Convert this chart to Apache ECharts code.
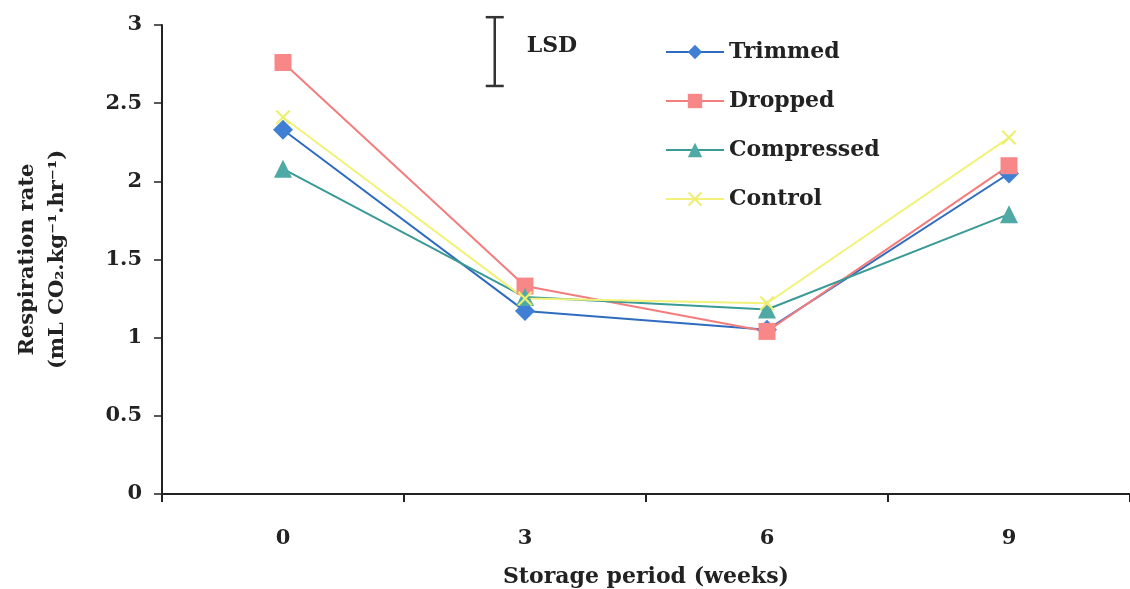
<!DOCTYPE html>
<html>
<head>
<meta charset="utf-8">
<script src="https://cdn.jsdelivr.net/npm/echarts@6/dist/echarts.min.js"></script>
<style>
  html, body { margin: 0; padding: 0; background: #fff; }
  #chart { width: 1130px; height: 589px; }
</style>
</head>
<body>
<div id="chart"></div>
<script>
// Storage period (weeks)
const weeks = ['0', '3', '6', '9'];

// Respiration rate, mL CO2 per kg per hour
const trimmed    = [2.33, 1.17, 1.05, 2.05];
const dropped    = [2.76, 1.33, 1.04, 2.10];
const compressed = [2.08, 1.26, 1.18, 1.79];
const control    = [2.41, 1.25, 1.22, 2.28];

// Least significant difference bar (position on a 0..4 band scale, low/high on the rate axis)
const lsdX = [1.375];
const lsdLow = [2.61];
const lsdHigh = [3.05];

const yTicks = { min: 0, max: 3, interval: 0.5 };

const serifFont = '"DejaVu Serif", "Liberation Serif", serif';
const ink = '#222';

const crossSymbol = 'path://M0,1 L1,0 L5,4 L9,0 L10,1 L6,5 L10,9 L9,10 L5,6 L1,10 L0,9 L4,5 Z';

function lineSeries(name, data, lineColor, markColor, symbol, size) {
  return {
    name: name,
    type: 'line',
    data: data,
    symbol: symbol,
    symbolSize: size,
    lineStyle: { color: lineColor, width: 2 },
    itemStyle: { color: markColor },
    emphasis: { disabled: true },
    z: 3
  };
}

const chart = echarts.init(document.getElementById('chart'), null, { renderer: 'canvas' });

chart.setOption({
  backgroundColor: '#ffffff',
  animation: false,
  grid: { left: 162, right: 0, top: 25, bottom: 95, containLabel: false, outerBoundsMode: 'none' },
  legend: {
    orient: 'vertical',
    left: 660,
    top: 36,
    itemWidth: 58,
    itemHeight: 18,
    itemGap: 27,
    textStyle: { fontFamily: serifFont, fontWeight: 'bold', fontSize: 22, color: ink },
    data: ['Trimmed', 'Dropped', 'Compressed', 'Control']
  },
  xAxis: [
    {
      type: 'category',
      data: weeks,
      boundaryGap: true,
      name: 'Storage period (weeks)',
      nameLocation: 'middle',
      nameGap: 72,
      nameTextStyle: { fontFamily: serifFont, fontWeight: 'bold', fontSize: 22, color: ink },
      axisLine: { lineStyle: { color: ink, width: 2 } },
      axisTick: { show: true, inside: false, length: 8, lineStyle: { color: ink, width: 2 } },
      axisLabel: { fontFamily: serifFont, fontWeight: 'bold', fontSize: 21, color: ink, margin: 34 },
      splitLine: { show: false }
    },
    {
      type: 'value',
      min: 0,
      max: 4,
      show: false
    }
  ],
  yAxis: {
    type: 'value',
    min: yTicks.min,
    max: yTicks.max,
    interval: yTicks.interval,
    name: 'Respiration rate\n(mL CO\u2082.kg\u207B\u00B9.hr\u207B\u00B9)',
    nameLocation: 'middle',
    nameGap: 89,
    nameRotate: 90,
    nameTextStyle: { fontFamily: serifFont, fontWeight: 'bold', fontSize: 21, color: ink, lineHeight: 30 },
    axisLine: { show: true, lineStyle: { color: ink, width: 2 } },
    axisTick: { show: true, inside: false, length: 8, lineStyle: { color: ink, width: 1.5 } },
    axisLabel: { fontFamily: serifFont, fontWeight: 'bold', fontSize: 21, color: ink, margin: 20 },
    splitLine: { show: false }
  },
  series: [
    lineSeries('Trimmed', trimmed, '#2f6cc0', '#3f80d4', 'diamond', 20),
    lineSeries('Dropped', dropped, '#f37d7d', '#f88888', 'rect', 17),
    lineSeries('Compressed', compressed, '#3a9a96', '#4fa9a5', 'triangle', 18),
    lineSeries('Control', control, '#f2f27a', '#eeee70', crossSymbol, 15),
    {
      type: 'custom',
      xAxisIndex: 1,
      yAxisIndex: 0,
      clip: false,
      silent: true,
      data: lsdX.map((x, i) => [x, lsdLow[i], lsdHigh[i]]),
      renderItem: function (params, api) {
        const x = api.value(0);
        const lo = api.coord([x, api.value(1)]);
        const hi = api.coord([x, api.value(2)]);
        const cap = 9;
        const style = { stroke: '#333', lineWidth: 2.5 };
        return {
          type: 'group',
          children: [
            { type: 'line', shape: { x1: hi[0], y1: hi[1], x2: lo[0], y2: lo[1] }, style: style },
            { type: 'line', shape: { x1: hi[0] - cap, y1: hi[1], x2: hi[0] + cap, y2: hi[1] }, style: style },
            { type: 'line', shape: { x1: lo[0] - cap, y1: lo[1], x2: lo[0] + cap, y2: lo[1] }, style: style },
            {
              type: 'text',
              style: {
                text: 'LSD',
                x: hi[0] + 32,
                y: (hi[1] + lo[1]) / 2 - 5,
                textAlign: 'left',
                textVerticalAlign: 'middle',
                font: 'bold 22px ' + serifFont,
                fill: ink
              }
            }
          ]
        };
      },
      z: 4
    }
  ]
});
</script>
</body>
</html>
